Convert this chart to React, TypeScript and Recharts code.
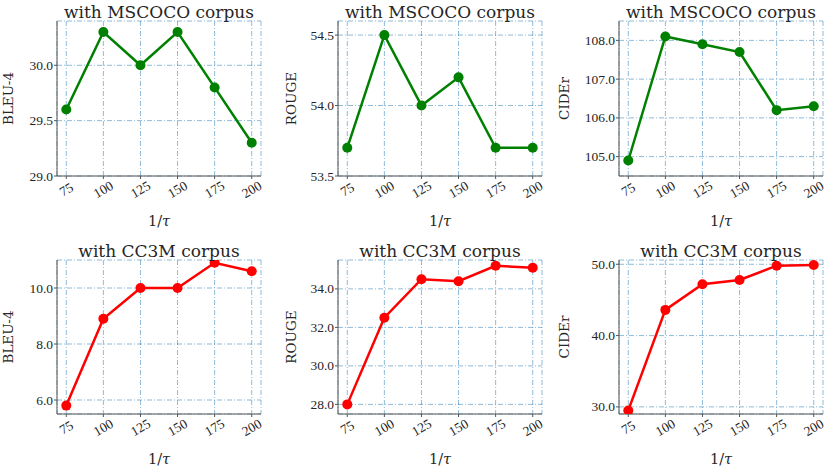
import { LineChart, Line, XAxis, YAxis, CartesianGrid } from 'recharts';

// 1/tau values on the x axis
const invTau = [75, 100, 125, 150, 175, 200];

// MSCOCO corpus
const cocoBleu = [29.6, 30.3, 30.0, 30.3, 29.8, 29.3];
const cocoRouge = [53.7, 54.5, 54.0, 54.2, 53.7, 53.7];
const cocoCider = [104.9, 108.1, 107.9, 107.7, 106.2, 106.3];

// CC3M corpus
const cc3mBleu = [5.8, 8.9, 10.0, 10.0, 10.9, 10.6];
const cc3mRouge = [28.0, 32.5, 34.5, 34.4, 35.2, 35.1];
const cc3mCider = [29.5, 43.6, 47.2, 47.8, 49.8, 49.9];

// y tick labels
const cocoBleuTicks = [29.0, 29.5, 30.0];
const cocoRougeTicks = [53.5, 54.0, 54.5];
const cocoCiderTicks = [105.0, 106.0, 107.0, 108.0];
const cc3mBleuTicks = [6.0, 8.0, 10.0];
const cc3mRougeTicks = [28.0, 30.0, 32.0, 34.0];
const cc3mCiderTicks = [30.0, 40.0, 50.0];

const titles = ['with MSCOCO corpus', 'with CC3M corpus'];
const metrics = ['BLEU-4', 'ROUGE', 'CIDEr'];

const GREEN = '#008000';
const RED = '#ff0000';
const GRID = 'rgba(31,119,180,0.5)';
const FRAME = '#555';
const TEXT = '#262626';
const SERIF = 'DejaVu Serif, serif';
const TICK_FONT = 'Liberation Serif, serif';

// panel layout (page pixels)
const cols = [
  { x: 0, w: 280, pl: 57, pr: 261, labelX: 7.5 },
  { x: 280, w: 275, pl: 338, pr: 542, labelX: 290.5 },
  { x: 555, w: 276, pl: 619, pr: 823, labelX: 564 },
];
const rows = [
  { y: 0, h: 235, pt: 21, pb: 176 },
  { y: 235, h: 236, pt: 260, pb: 414 },
];

const Y_AXIS_W = 40;
const X_AXIS_H = 30;

const panels = [
  { row: 0, col: 0, values: cocoBleu, ticks: cocoBleuTicks, domain: [29.0, 30.4], color: GREEN },
  { row: 0, col: 1, values: cocoRouge, ticks: cocoRougeTicks, domain: [53.5, 54.6], color: GREEN },
  { row: 0, col: 2, values: cocoCider, ticks: cocoCiderTicks, domain: [104.5, 108.5], color: GREEN },
  { row: 1, col: 0, values: cc3mBleu, ticks: cc3mBleuTicks, domain: [5.5, 11.0], color: RED },
  { row: 1, col: 1, values: cc3mRouge, ticks: cc3mRougeTicks, domain: [27.5, 35.5], color: RED },
  { row: 1, col: 2, values: cc3mCider, ticks: cc3mCiderTicks, domain: [29.0, 50.6], color: RED },
];

const tickStyle = { fontFamily: TICK_FONT, fontSize: 13.5 };

const XTick = ({ x, y, payload }: any) => {
  const cy = y + 10.5;
  return (
    <text
      x={x}
      y={cy}
      textAnchor="middle"
      dominantBaseline="central"
      transform={`rotate(-30, ${x}, ${cy})`}
      fill={TEXT}
      style={tickStyle}
    >
      {payload.value}
    </text>
  );
};

const YTick = ({ x, y, payload }: any) => (
  <text x={x} y={y} textAnchor="end" dominantBaseline="central" fill={TEXT} style={tickStyle}>
    {payload.value.toFixed(1)}
  </text>
);

const Panel = ({ p }: { p: (typeof panels)[number] }) => {
  const c = cols[p.col];
  const r = rows[p.row];
  const data = invTau.map((t, i) => ({ t, v: p.values[i] }));
  const margin = {
    top: r.pt - r.y,
    bottom: r.y + r.h - r.pb - X_AXIS_H,
    left: c.pl - c.x - Y_AXIS_W,
    right: c.x + c.w - c.pr,
  };
  return (
    <div style={{ position: 'absolute', left: c.x, top: r.y }}>
      <LineChart width={c.w} height={r.h} data={data} margin={margin}>
        <CartesianGrid stroke={GRID} strokeDasharray="5 2 1 2" strokeWidth={1} />
        <XAxis
          dataKey="t"
          type="number"
          domain={[68.75, 206.25]}
          ticks={invTau}
          allowDataOverflow
          height={X_AXIS_H}
          stroke={FRAME}
          tickSize={3}
          tickMargin={0}
          tick={<XTick />}
        />
        <XAxis
          xAxisId="top"
          orientation="top"
          dataKey="t"
          type="number"
          domain={[68.75, 206.25]}
          height={0}
          tick={false}
          tickLine={false}
          stroke={FRAME}
        />
        <YAxis
          type="number"
          domain={p.domain}
          ticks={p.ticks}
          allowDataOverflow
          width={Y_AXIS_W}
          stroke={FRAME}
          tickSize={3}
          tickMargin={1}
          tick={<YTick />}
        />
        <YAxis
          yAxisId="right"
          orientation="right"
          type="number"
          domain={p.domain}
          width={0}
          tick={false}
          tickLine={false}
          stroke={FRAME}
        />
        <Line
          type="linear"
          dataKey="v"
          stroke={p.color}
          strokeWidth={2.5}
          dot={{ r: 5, fill: p.color, stroke: p.color, strokeWidth: 0 }}
          isAnimationActive={false}
        />
      </LineChart>
    </div>
  );
};

export default function App() {
  return (
    <div style={{ position: 'absolute', left: 0, top: 0, width: 831, height: 471, background: '#fff' }}>
      {panels.map((p, i) => (
        <Panel key={i} p={p} />
      ))}
      <svg
        width={831}
        height={471}
        style={{ position: 'absolute', left: 0, top: 0, pointerEvents: 'none', fontFamily: SERIF }}
      >
        {panels.map((p, i) => {
          const c = cols[p.col];
          const r = rows[p.row];
          const cx = (c.pl + c.pr) / 2;
          const cy = (r.pt + r.pb) / 2;
          return (
            <g key={i} fill={TEXT}>
              <text x={cx} y={r.pt - 3.5} textAnchor="middle" style={{ fontFamily: SERIF, fontSize: 17 }}>
                {titles[p.row]}
              </text>
              <text
                x={c.labelX}
                y={cy}
                textAnchor="middle"
                dominantBaseline="central"
                transform={`rotate(-90, ${c.labelX}, ${cy})`}
                style={{ fontFamily: SERIF, fontSize: 13.5 }}
              >
                {metrics[p.col]}
              </text>
              <text x={cx} y={r.pb + 49.5} textAnchor="middle" style={{ fontFamily: SERIF, fontSize: 14.5 }}>
                1/<tspan fontStyle="italic">τ</tspan>
              </text>
            </g>
          );
        })}
      </svg>
    </div>
  );
}
